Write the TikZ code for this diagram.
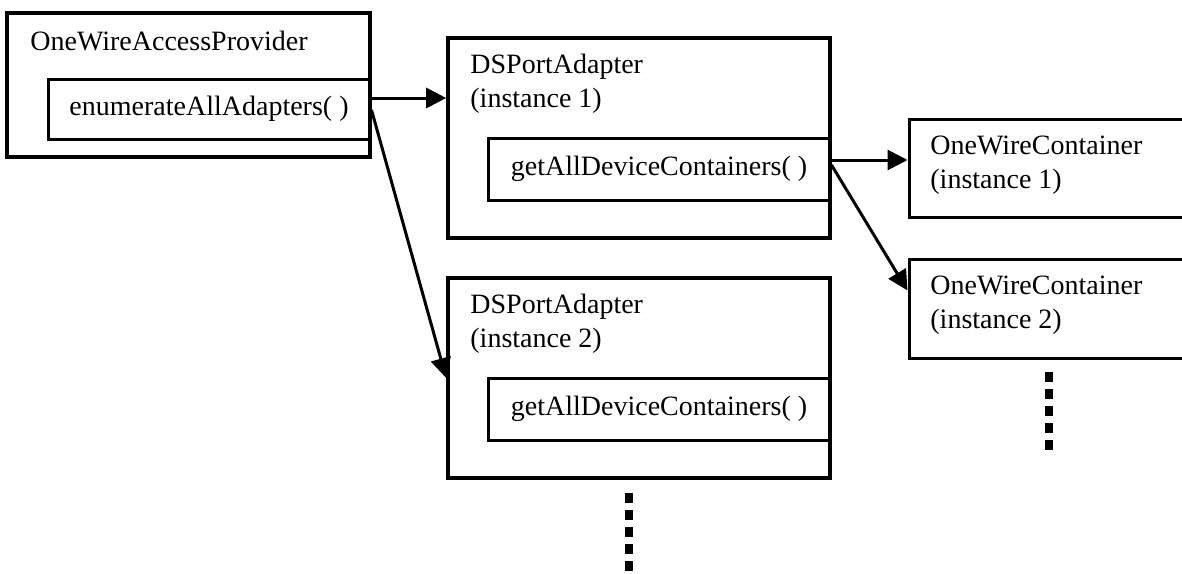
\documentclass[tikz,border=0pt]{standalone}
\usepackage{fontspec}
\setmainfont{Liberation Serif}
\usetikzlibrary{arrows.meta}

\begin{document}
\begin{tikzpicture}[
  x=0.5pt, y=-0.5pt,
  font=\fontsize{14}{17}\selectfont,
  >={Triangle[length=10pt, width=10pt]},
  classbox/.style={draw, line width=1.8pt, inner sep=0pt},
  methodbox/.style={draw, line width=1.5pt, inner sep=0pt},
  classname/.style={anchor=base west, align=left, inner sep=0pt},
  arr/.style={->, line width=1.5pt},
  more/.style={line width=3.8pt, dash pattern=on 5pt off 3.5pt},
]

\clip (0,0) rectangle (1182,573);

% Access provider
\node[classbox, line width=2pt, minimum width=181.5pt, minimum height=72pt] (prov) at (188.5,85) {};
\node[classname] (provlbl) at (30,50) {OneWireAccessProvider};
\node[methodbox, minimum width=161pt, minimum height=30pt] (provm) at (209,109)
  {enumerateAllAdapters( )};

% Adapters
\node[classbox, minimum width=191pt, minimum height=100pt] (adone) at (639,138) {};
\node[classname] (adonelbl) at (470,107) {DSPortAdapter\\(instance 1)};
\node[methodbox, minimum width=171pt, minimum height=31pt] (adonem) at (659,169)
  {getAllDeviceContainers( )};

\node[classbox, minimum width=191pt, minimum height=100pt] (adtwo) at (639,378) {};
\node[classname] (adtwolbl) at (470,347) {DSPortAdapter\\(instance 2)};
\node[methodbox, minimum width=171pt, minimum height=31pt] (adtwom) at (659,409)
  {getAllDeviceContainers( )};

% Containers
\node[classbox, line width=1.5pt, minimum width=145.5pt, minimum height=49pt] (cone) at (1054.5,168) {};
\node[classname] (conelbl) at (930,188) {OneWireContainer\\(instance 1)};

\node[classbox, line width=1.5pt, minimum width=145.5pt, minimum height=49.5pt] (ctwo) at (1054.5,308.5) {};
\node[classname] (ctwolbl) at (930,328) {OneWireContainer\\(instance 2)};

% Calls
\draw[arr] ([yshift=5.5pt]provm.east) -- ([yshift=5.5pt]provm.east -| adone.west);
\draw[arr] ([yshift=-0.5pt]provm.east) -- (adtwo.west);
\draw[arr] ([yshift=4.5pt]adonem.east) -- ([yshift=4.5pt]adonem.east -| cone.west);
\draw[arr] ([yshift=2pt]adonem.east) -- ([yshift=9pt]ctwo.west);

% More instances
\draw[more] (629,493) -- (629,600);
\draw[more] (1049,372) -- (1049,450);

\end{tikzpicture}
\end{document}
